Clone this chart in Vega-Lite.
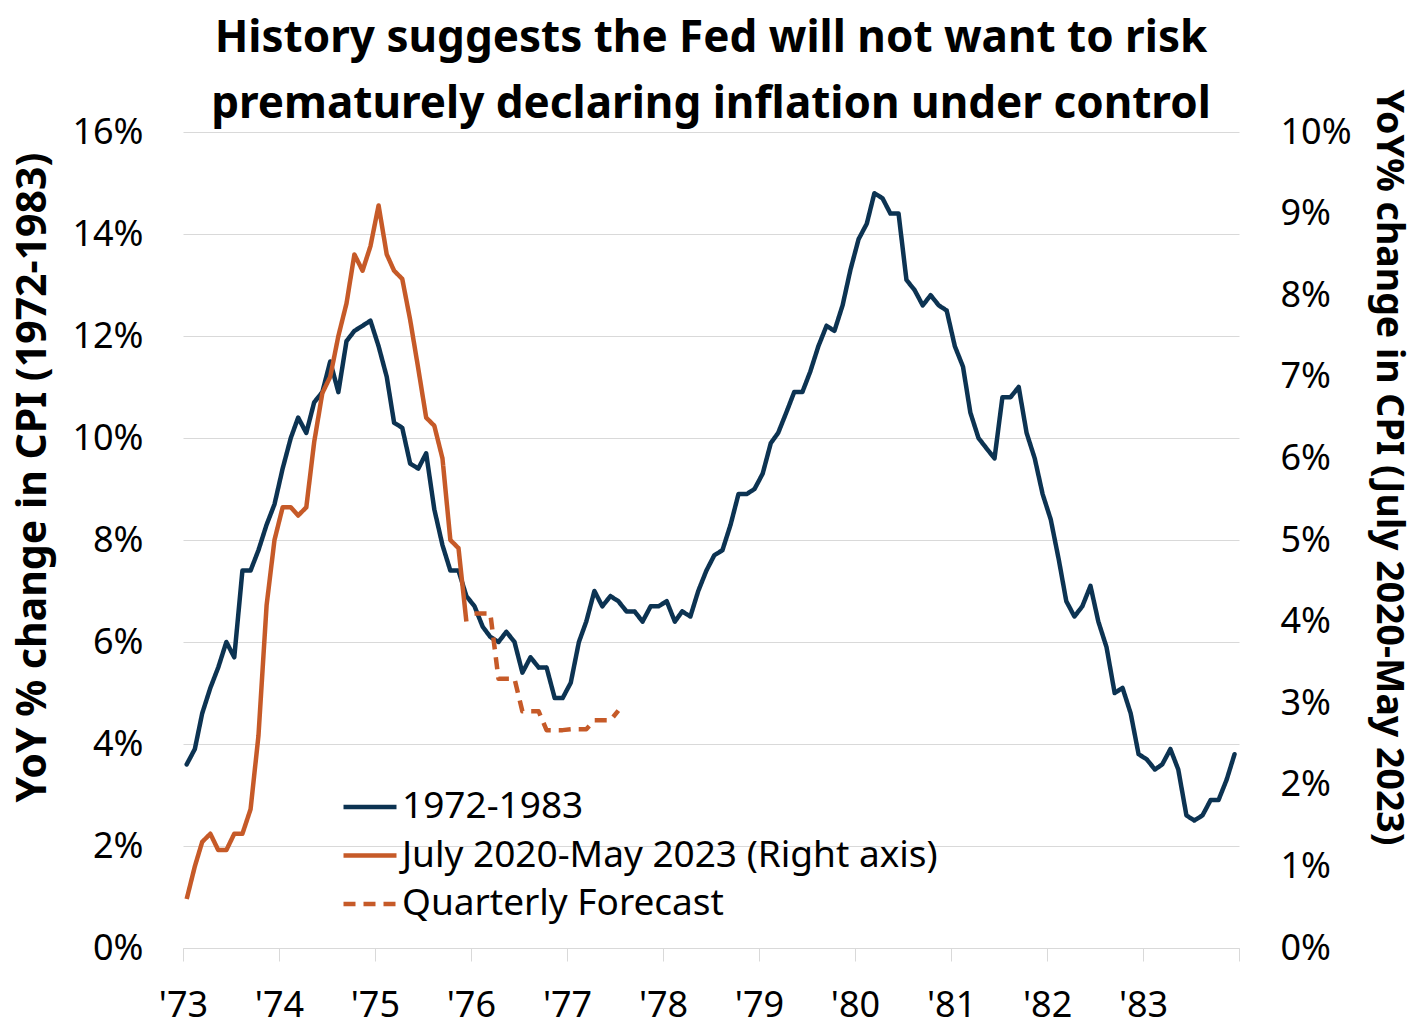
{
  "$schema": "https://vega.github.io/schema/vega-lite/v6.json",
  "autosize": {"type": "none"},
  "padding": {"left": 183, "top": 132, "right": 181, "bottom": 83},
  "width": 1056,
  "height": 816,
  "background": "white",
  "config": {
    "view": {"stroke": null},
    "font": "Noto Sans",
    "axis": {"labelFont": "Noto Sans", "titleFont": "Noto Sans", "labelColor": "#000000", "titleColor": "#000000"},
    "legend": {"labelFont": "Noto Sans", "labelFontSize": 37, "labelColor": "#000000", "labelLimit": 0, "symbolType": "stroke", "symbolSize": 2809, "symbolStrokeWidth": 4.5, "labelOffset": 3, "rowPadding": 1.5, "padding": 0}
  },
  "title": {
    "text": ["History suggests the Fed will not want to risk", "prematurely declaring inflation under control"],
    "font": "Noto Sans",
    "fontWeight": "bold",
    "fontSize": 44,
    "lineHeight": 66,
    "color": "#000000",
    "anchor": "middle",
    "offset": -38
  },
  "data": {
    "values": [
      {"date": "1973-01-15", "series": "1972-1983", "value": 3.6},
      {"date": "1973-02-15", "series": "1972-1983", "value": 3.9},
      {"date": "1973-03-15", "series": "1972-1983", "value": 4.6},
      {"date": "1973-04-15", "series": "1972-1983", "value": 5.1},
      {"date": "1973-05-15", "series": "1972-1983", "value": 5.5},
      {"date": "1973-06-15", "series": "1972-1983", "value": 6.0},
      {"date": "1973-07-15", "series": "1972-1983", "value": 5.7},
      {"date": "1973-08-15", "series": "1972-1983", "value": 7.4},
      {"date": "1973-09-15", "series": "1972-1983", "value": 7.4},
      {"date": "1973-10-15", "series": "1972-1983", "value": 7.8},
      {"date": "1973-11-15", "series": "1972-1983", "value": 8.3},
      {"date": "1973-12-15", "series": "1972-1983", "value": 8.7},
      {"date": "1974-01-15", "series": "1972-1983", "value": 9.4},
      {"date": "1974-02-15", "series": "1972-1983", "value": 10.0},
      {"date": "1974-03-15", "series": "1972-1983", "value": 10.4},
      {"date": "1974-04-15", "series": "1972-1983", "value": 10.1},
      {"date": "1974-05-15", "series": "1972-1983", "value": 10.7},
      {"date": "1974-06-15", "series": "1972-1983", "value": 10.9},
      {"date": "1974-07-15", "series": "1972-1983", "value": 11.5},
      {"date": "1974-08-15", "series": "1972-1983", "value": 10.9},
      {"date": "1974-09-15", "series": "1972-1983", "value": 11.9},
      {"date": "1974-10-15", "series": "1972-1983", "value": 12.1},
      {"date": "1974-11-15", "series": "1972-1983", "value": 12.2},
      {"date": "1974-12-15", "series": "1972-1983", "value": 12.3},
      {"date": "1975-01-15", "series": "1972-1983", "value": 11.8},
      {"date": "1975-02-15", "series": "1972-1983", "value": 11.2},
      {"date": "1975-03-15", "series": "1972-1983", "value": 10.3},
      {"date": "1975-04-15", "series": "1972-1983", "value": 10.2},
      {"date": "1975-05-15", "series": "1972-1983", "value": 9.5},
      {"date": "1975-06-15", "series": "1972-1983", "value": 9.4},
      {"date": "1975-07-15", "series": "1972-1983", "value": 9.7},
      {"date": "1975-08-15", "series": "1972-1983", "value": 8.6},
      {"date": "1975-09-15", "series": "1972-1983", "value": 7.9},
      {"date": "1975-10-15", "series": "1972-1983", "value": 7.4},
      {"date": "1975-11-15", "series": "1972-1983", "value": 7.4},
      {"date": "1975-12-15", "series": "1972-1983", "value": 6.9},
      {"date": "1976-01-15", "series": "1972-1983", "value": 6.7},
      {"date": "1976-02-15", "series": "1972-1983", "value": 6.3},
      {"date": "1976-03-15", "series": "1972-1983", "value": 6.1},
      {"date": "1976-04-15", "series": "1972-1983", "value": 6.0},
      {"date": "1976-05-15", "series": "1972-1983", "value": 6.2},
      {"date": "1976-06-15", "series": "1972-1983", "value": 6.0},
      {"date": "1976-07-15", "series": "1972-1983", "value": 5.4},
      {"date": "1976-08-15", "series": "1972-1983", "value": 5.7},
      {"date": "1976-09-15", "series": "1972-1983", "value": 5.5},
      {"date": "1976-10-15", "series": "1972-1983", "value": 5.5},
      {"date": "1976-11-15", "series": "1972-1983", "value": 4.9},
      {"date": "1976-12-15", "series": "1972-1983", "value": 4.9},
      {"date": "1977-01-15", "series": "1972-1983", "value": 5.2},
      {"date": "1977-02-15", "series": "1972-1983", "value": 6.0},
      {"date": "1977-03-15", "series": "1972-1983", "value": 6.4},
      {"date": "1977-04-15", "series": "1972-1983", "value": 7.0},
      {"date": "1977-05-15", "series": "1972-1983", "value": 6.7},
      {"date": "1977-06-15", "series": "1972-1983", "value": 6.9},
      {"date": "1977-07-15", "series": "1972-1983", "value": 6.8},
      {"date": "1977-08-15", "series": "1972-1983", "value": 6.6},
      {"date": "1977-09-15", "series": "1972-1983", "value": 6.6},
      {"date": "1977-10-15", "series": "1972-1983", "value": 6.4},
      {"date": "1977-11-15", "series": "1972-1983", "value": 6.7},
      {"date": "1977-12-15", "series": "1972-1983", "value": 6.7},
      {"date": "1978-01-15", "series": "1972-1983", "value": 6.8},
      {"date": "1978-02-15", "series": "1972-1983", "value": 6.4},
      {"date": "1978-03-15", "series": "1972-1983", "value": 6.6},
      {"date": "1978-04-15", "series": "1972-1983", "value": 6.5},
      {"date": "1978-05-15", "series": "1972-1983", "value": 7.0},
      {"date": "1978-06-15", "series": "1972-1983", "value": 7.4},
      {"date": "1978-07-15", "series": "1972-1983", "value": 7.7},
      {"date": "1978-08-15", "series": "1972-1983", "value": 7.8},
      {"date": "1978-09-15", "series": "1972-1983", "value": 8.3},
      {"date": "1978-10-15", "series": "1972-1983", "value": 8.9},
      {"date": "1978-11-15", "series": "1972-1983", "value": 8.9},
      {"date": "1978-12-15", "series": "1972-1983", "value": 9.0},
      {"date": "1979-01-15", "series": "1972-1983", "value": 9.3},
      {"date": "1979-02-15", "series": "1972-1983", "value": 9.9},
      {"date": "1979-03-15", "series": "1972-1983", "value": 10.1},
      {"date": "1979-04-15", "series": "1972-1983", "value": 10.5},
      {"date": "1979-05-15", "series": "1972-1983", "value": 10.9},
      {"date": "1979-06-15", "series": "1972-1983", "value": 10.9},
      {"date": "1979-07-15", "series": "1972-1983", "value": 11.3},
      {"date": "1979-08-15", "series": "1972-1983", "value": 11.8},
      {"date": "1979-09-15", "series": "1972-1983", "value": 12.2},
      {"date": "1979-10-15", "series": "1972-1983", "value": 12.1},
      {"date": "1979-11-15", "series": "1972-1983", "value": 12.6},
      {"date": "1979-12-15", "series": "1972-1983", "value": 13.3},
      {"date": "1980-01-15", "series": "1972-1983", "value": 13.9},
      {"date": "1980-02-15", "series": "1972-1983", "value": 14.2},
      {"date": "1980-03-15", "series": "1972-1983", "value": 14.8},
      {"date": "1980-04-15", "series": "1972-1983", "value": 14.7},
      {"date": "1980-05-15", "series": "1972-1983", "value": 14.4},
      {"date": "1980-06-15", "series": "1972-1983", "value": 14.4},
      {"date": "1980-07-15", "series": "1972-1983", "value": 13.1},
      {"date": "1980-08-15", "series": "1972-1983", "value": 12.9},
      {"date": "1980-09-15", "series": "1972-1983", "value": 12.6},
      {"date": "1980-10-15", "series": "1972-1983", "value": 12.8},
      {"date": "1980-11-15", "series": "1972-1983", "value": 12.6},
      {"date": "1980-12-15", "series": "1972-1983", "value": 12.5},
      {"date": "1981-01-15", "series": "1972-1983", "value": 11.8},
      {"date": "1981-02-15", "series": "1972-1983", "value": 11.4},
      {"date": "1981-03-15", "series": "1972-1983", "value": 10.5},
      {"date": "1981-04-15", "series": "1972-1983", "value": 10.0},
      {"date": "1981-05-15", "series": "1972-1983", "value": 9.8},
      {"date": "1981-06-15", "series": "1972-1983", "value": 9.6},
      {"date": "1981-07-15", "series": "1972-1983", "value": 10.8},
      {"date": "1981-08-15", "series": "1972-1983", "value": 10.8},
      {"date": "1981-09-15", "series": "1972-1983", "value": 11.0},
      {"date": "1981-10-15", "series": "1972-1983", "value": 10.1},
      {"date": "1981-11-15", "series": "1972-1983", "value": 9.6},
      {"date": "1981-12-15", "series": "1972-1983", "value": 8.9},
      {"date": "1982-01-15", "series": "1972-1983", "value": 8.4},
      {"date": "1982-02-15", "series": "1972-1983", "value": 7.6},
      {"date": "1982-03-15", "series": "1972-1983", "value": 6.8},
      {"date": "1982-04-15", "series": "1972-1983", "value": 6.5},
      {"date": "1982-05-15", "series": "1972-1983", "value": 6.7},
      {"date": "1982-06-15", "series": "1972-1983", "value": 7.1},
      {"date": "1982-07-15", "series": "1972-1983", "value": 6.4},
      {"date": "1982-08-15", "series": "1972-1983", "value": 5.9},
      {"date": "1982-09-15", "series": "1972-1983", "value": 5.0},
      {"date": "1982-10-15", "series": "1972-1983", "value": 5.1},
      {"date": "1982-11-15", "series": "1972-1983", "value": 4.6},
      {"date": "1982-12-15", "series": "1972-1983", "value": 3.8},
      {"date": "1983-01-15", "series": "1972-1983", "value": 3.7},
      {"date": "1983-02-15", "series": "1972-1983", "value": 3.5},
      {"date": "1983-03-15", "series": "1972-1983", "value": 3.6},
      {"date": "1983-04-15", "series": "1972-1983", "value": 3.9},
      {"date": "1983-05-15", "series": "1972-1983", "value": 3.5},
      {"date": "1983-06-15", "series": "1972-1983", "value": 2.6},
      {"date": "1983-07-15", "series": "1972-1983", "value": 2.5},
      {"date": "1983-08-15", "series": "1972-1983", "value": 2.6},
      {"date": "1983-09-15", "series": "1972-1983", "value": 2.9},
      {"date": "1983-10-15", "series": "1972-1983", "value": 2.9},
      {"date": "1983-11-15", "series": "1972-1983", "value": 3.3},
      {"date": "1983-12-15", "series": "1972-1983", "value": 3.8},
      {"date": "1973-01-15", "series": "July 2020-May 2023 (Right axis)", "value": 0.6},
      {"date": "1973-02-15", "series": "July 2020-May 2023 (Right axis)", "value": 1.0},
      {"date": "1973-03-15", "series": "July 2020-May 2023 (Right axis)", "value": 1.3},
      {"date": "1973-04-15", "series": "July 2020-May 2023 (Right axis)", "value": 1.4},
      {"date": "1973-05-15", "series": "July 2020-May 2023 (Right axis)", "value": 1.2},
      {"date": "1973-06-15", "series": "July 2020-May 2023 (Right axis)", "value": 1.2},
      {"date": "1973-07-15", "series": "July 2020-May 2023 (Right axis)", "value": 1.4},
      {"date": "1973-08-15", "series": "July 2020-May 2023 (Right axis)", "value": 1.4},
      {"date": "1973-09-15", "series": "July 2020-May 2023 (Right axis)", "value": 1.7},
      {"date": "1973-10-15", "series": "July 2020-May 2023 (Right axis)", "value": 2.6},
      {"date": "1973-11-15", "series": "July 2020-May 2023 (Right axis)", "value": 4.2},
      {"date": "1973-12-15", "series": "July 2020-May 2023 (Right axis)", "value": 5.0},
      {"date": "1974-01-15", "series": "July 2020-May 2023 (Right axis)", "value": 5.4},
      {"date": "1974-02-15", "series": "July 2020-May 2023 (Right axis)", "value": 5.4},
      {"date": "1974-03-15", "series": "July 2020-May 2023 (Right axis)", "value": 5.3},
      {"date": "1974-04-15", "series": "July 2020-May 2023 (Right axis)", "value": 5.4},
      {"date": "1974-05-15", "series": "July 2020-May 2023 (Right axis)", "value": 6.2},
      {"date": "1974-06-15", "series": "July 2020-May 2023 (Right axis)", "value": 6.8},
      {"date": "1974-07-15", "series": "July 2020-May 2023 (Right axis)", "value": 7.0},
      {"date": "1974-08-15", "series": "July 2020-May 2023 (Right axis)", "value": 7.5},
      {"date": "1974-09-15", "series": "July 2020-May 2023 (Right axis)", "value": 7.9},
      {"date": "1974-10-15", "series": "July 2020-May 2023 (Right axis)", "value": 8.5},
      {"date": "1974-11-15", "series": "July 2020-May 2023 (Right axis)", "value": 8.3},
      {"date": "1974-12-15", "series": "July 2020-May 2023 (Right axis)", "value": 8.6},
      {"date": "1975-01-15", "series": "July 2020-May 2023 (Right axis)", "value": 9.1},
      {"date": "1975-02-15", "series": "July 2020-May 2023 (Right axis)", "value": 8.5},
      {"date": "1975-03-15", "series": "July 2020-May 2023 (Right axis)", "value": 8.3},
      {"date": "1975-04-15", "series": "July 2020-May 2023 (Right axis)", "value": 8.2},
      {"date": "1975-05-15", "series": "July 2020-May 2023 (Right axis)", "value": 7.7},
      {"date": "1975-06-15", "series": "July 2020-May 2023 (Right axis)", "value": 7.1},
      {"date": "1975-07-15", "series": "July 2020-May 2023 (Right axis)", "value": 6.5},
      {"date": "1975-08-15", "series": "July 2020-May 2023 (Right axis)", "value": 6.4},
      {"date": "1975-09-15", "series": "July 2020-May 2023 (Right axis)", "value": 6.0},
      {"date": "1975-10-15", "series": "July 2020-May 2023 (Right axis)", "value": 5.0},
      {"date": "1975-11-15", "series": "July 2020-May 2023 (Right axis)", "value": 4.9},
      {"date": "1975-12-15", "series": "July 2020-May 2023 (Right axis)", "value": 4.0},
      {"date": "1976-01-15", "series": "Quarterly Forecast", "value": 4.1},
      {"date": "1976-02-15", "series": "Quarterly Forecast", "value": 4.1},
      {"date": "1976-03-15", "series": "Quarterly Forecast", "value": 4.1},
      {"date": "1976-04-15", "series": "Quarterly Forecast", "value": 3.3},
      {"date": "1976-05-15", "series": "Quarterly Forecast", "value": 3.3},
      {"date": "1976-06-15", "series": "Quarterly Forecast", "value": 3.3},
      {"date": "1976-07-15", "series": "Quarterly Forecast", "value": 2.9},
      {"date": "1976-08-15", "series": "Quarterly Forecast", "value": 2.9},
      {"date": "1976-09-15", "series": "Quarterly Forecast", "value": 2.9},
      {"date": "1976-10-15", "series": "Quarterly Forecast", "value": 2.67},
      {"date": "1976-11-15", "series": "Quarterly Forecast", "value": 2.67},
      {"date": "1976-12-15", "series": "Quarterly Forecast", "value": 2.67},
      {"date": "1977-01-15", "series": "Quarterly Forecast", "value": 2.68},
      {"date": "1977-02-15", "series": "Quarterly Forecast", "value": 2.68},
      {"date": "1977-03-15", "series": "Quarterly Forecast", "value": 2.68},
      {"date": "1977-04-15", "series": "Quarterly Forecast", "value": 2.79},
      {"date": "1977-05-15", "series": "Quarterly Forecast", "value": 2.79},
      {"date": "1977-06-15", "series": "Quarterly Forecast", "value": 2.79},
      {"date": "1977-07-15", "series": "Quarterly Forecast", "value": 2.91}
    ]
  },
  "encoding": {
    "x": {
      "field": "date",
      "type": "temporal",
      "scale": {"type": "utc", "domain": [{"year": 1973, "month": 1, "date": 1, "utc": true}, {"year": 1984, "month": 1, "date": 1, "utc": true}]},
      "axis": {
        "title": null,
        "values": [
          {"year": 1973, "month": 1, "date": 1, "utc": true},
          {"year": 1974, "month": 1, "date": 1, "utc": true},
          {"year": 1975, "month": 1, "date": 1, "utc": true},
          {"year": 1976, "month": 1, "date": 1, "utc": true},
          {"year": 1977, "month": 1, "date": 1, "utc": true},
          {"year": 1978, "month": 1, "date": 1, "utc": true},
          {"year": 1979, "month": 1, "date": 1, "utc": true},
          {"year": 1980, "month": 1, "date": 1, "utc": true},
          {"year": 1981, "month": 1, "date": 1, "utc": true},
          {"year": 1982, "month": 1, "date": 1, "utc": true},
          {"year": 1983, "month": 1, "date": 1, "utc": true},
          {"year": 1984, "month": 1, "date": 1, "utc": true}
        ],
        "labelExpr": "utcyear(datum.value) == 1984 ? '' : \"'\" + utcFormat(datum.value, '%y')",
        "grid": false,
        "tickSize": 13,
        "tickColor": "#d9d9d9",
        "domainColor": "#d9d9d9",
        "labelFontSize": 36,
        "labelPadding": 27,
        "labelFlush": false,
        "labelOverlap": false,
        "labelBound": false
      }
    },
    "color": {
      "field": "series",
      "type": "nominal",
      "scale": {"domain": ["1972-1983", "July 2020-May 2023 (Right axis)", "Quarterly Forecast"], "range": ["#0c3352", "#c65a28", "#c65a28"]},
      "legend": {"title": null, "orient": "none", "legendX": 158, "legendY": 646}
    },
    "strokeDash": {
      "field": "series",
      "type": "nominal",
      "scale": {"domain": ["1972-1983", "July 2020-May 2023 (Right axis)", "Quarterly Forecast"], "range": [[1, 0], [1, 0], [12, 8]]},
      "legend": {"title": null, "orient": "none", "legendX": 158, "legendY": 646}
    }
  },
  "layer": [
    {
      "transform": [{"filter": "datum.series == '1972-1983'"}],
      "mark": {"type": "line", "strokeWidth": 4.5, "strokeJoin": "round", "strokeCap": "round"},
      "encoding": {
        "y": {
          "field": "value",
          "type": "quantitative",
          "scale": {"domain": [0, 16], "nice": false, "zero": true},
          "axis": {
            "orient": "left",
            "title": "YoY % change in CPI (1972-1983)",
            "values": [0, 2, 4, 6, 8, 10, 12, 14, 16],
            "labelExpr": "datum.value + '%'",
            "grid": true,
            "gridColor": "#d9d9d9",
            "gridWidth": 1,
            "domain": false,
            "ticks": false,
            "tickSize": 0,
            "labelPadding": 40,
            "labelFontSize": 36,
            "titleFontSize": 41,
            "titleFontWeight": "bold",
            "titleAngle": -90,
            "titleX": -150,
            "titleY": 345,
            "titleAlign": "center",
            "titleBaseline": "middle"
          }
        }
      }
    },
    {
      "transform": [{"filter": "datum.series != '1972-1983'"}],
      "mark": {"type": "line", "strokeWidth": 4.5, "strokeJoin": "round", "strokeCap": "butt"},
      "encoding": {
        "y": {
          "field": "value",
          "type": "quantitative",
          "scale": {"domain": [0, 10], "nice": false, "zero": true},
          "axis": {
            "orient": "right",
            "title": "YoY% change in CPI (July 2020-May 2023)",
            "values": [0, 1, 2, 3, 4, 5, 6, 7, 8, 9, 10],
            "labelExpr": "datum.value + '%'",
            "grid": false,
            "domain": false,
            "ticks": false,
            "tickSize": 0,
            "labelPadding": 41,
            "labelFontSize": 36,
            "titleFontSize": 37.5,
            "titleFontWeight": "bold",
            "titleAngle": 90,
            "titleX": 148,
            "titleY": 335,
            "titleAlign": "center",
            "titleBaseline": "middle"
          }
        }
      }
    }
  ],
  "resolve": {"scale": {"y": "independent"}}
}
